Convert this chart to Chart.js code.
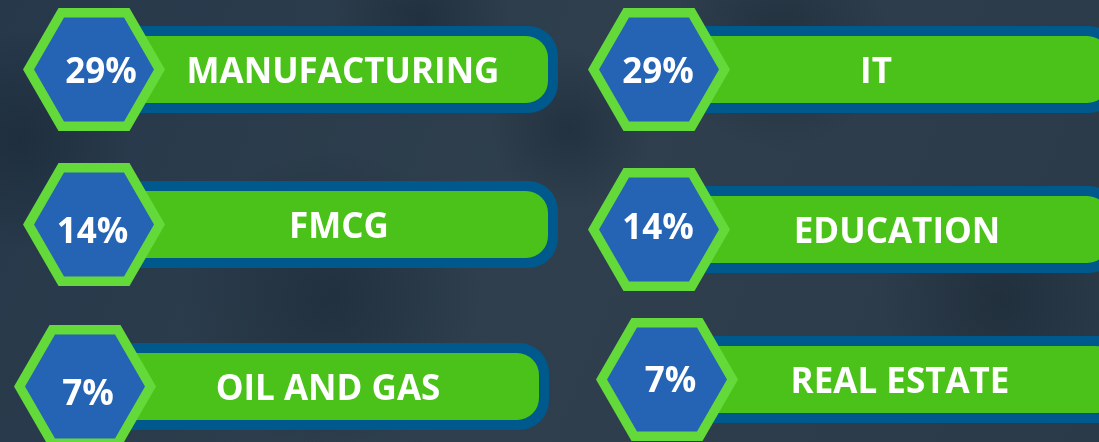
<!DOCTYPE html>
<html>
<head>
<meta charset="utf-8">
<script src="https://cdn.jsdelivr.net/npm/chart.js@4"></script>
<style>
  html, body { margin: 0; padding: 0; background: #2a3946; }
  #wrap { width: 1099px; height: 442px; position: relative; }
</style>
</head>
<body>
<div id="wrap"><canvas id="myChart"></canvas></div>
<script>
// data
const categories = ['MANUFACTURING', 'IT', 'FMCG', 'EDUCATION', 'OIL AND GAS', 'REAL ESTATE'];
const shares = [29, 29, 14, 14, 7, 7];
// grid slot of each card: column 0/1, row 0/1/2
const columns = [0, 1, 0, 1, 0, 1];
const rows = [0, 0, 1, 1, 2, 2];

// hand placed nudges in px (layout only): card dx, card dy, label dx, percent dx, percent dy
const nudge = [
    [0, 0, 3, 7, 1],
    [0, 0, -13, -1, 0.5],
    [0, -2, -1, -1.5, 5.5],
    [0, 3, 8, -1, -3.5],
    [-9, 3, -3, 3, 6],
    [8, -4, 3, 3.5, 0]
];

const HEX_R = 71, HEX_IN = 60;
const BAR_HALF = 43.5, BAR_BORDER = 10;
const CAP = 12.5; // half cap height of the 35px font

function roundRightRect(ctx, x, y, w, h, r) {
    ctx.beginPath();
    ctx.moveTo(x, y);
    ctx.lineTo(x + w - r, y);
    ctx.arcTo(x + w, y, x + w, y + r, r);
    ctx.lineTo(x + w, y + h - r);
    ctx.arcTo(x + w, y + h, x + w - r, y + h, r);
    ctx.lineTo(x, y + h);
    ctx.closePath();
}

function hexagon(ctx, cx, cy, r) {
    ctx.beginPath();
    for (let i = 0; i < 6; i++) {
        let a = Math.PI / 3 * i;
        let px = cx + r * Math.cos(a), py = cy + r * Math.sin(a);
        if (i === 0) ctx.moveTo(px, py); else ctx.lineTo(px, py);
    }
    ctx.closePath();
}

const background = {
    id: 'background',
    beforeDraw(chart) {
        const ctx = chart.ctx;
        ctx.save();
        let g = ctx.createLinearGradient(0, 0, 1099, 442);
        g.addColorStop(0, '#26384a');
        g.addColorStop(0.5, '#2f3f4d');
        g.addColorStop(1, '#2b3a48');
        ctx.fillStyle = g;
        ctx.fillRect(0, 0, chart.width, chart.height);
        // soft darker patches like the photo behind
        const patches = [[20, 140, 110], [330, 300, 150], [570, 130, 80], [1000, 300, 120], [780, 40, 110], [420, 20, 90]];
        patches.forEach(p => {
            let r = ctx.createRadialGradient(p[0], p[1], 0, p[0], p[1], p[2]);
            r.addColorStop(0, 'rgba(16,30,42,0.4)');
            r.addColorStop(1, 'rgba(16,30,42,0)');
            ctx.fillStyle = r;
            ctx.fillRect(0, 0, chart.width, chart.height);
        });
        ctx.restore();
    }
};

const badges = {
    id: 'badges',
    afterDatasetsDraw(chart) {
        const ctx = chart.ctx;
        const meta = chart.getDatasetMeta(0);
        ctx.save();
        meta.data.forEach((pt, i) => {
            let n = nudge[i];
            let cx = pt.x + n[0];
            let cy = pt.y + n[1];
            let len = columns[i] === 0 ? 464 : 460;

            // bar
            ctx.fillStyle = '#00598c';
            roundRightRect(ctx, cx, cy - BAR_HALF, len, BAR_HALF * 2, 30);
            ctx.fill();
            ctx.fillStyle = '#4bc219';
            roundRightRect(ctx, cx, cy - BAR_HALF + BAR_BORDER, len - BAR_BORDER, (BAR_HALF - BAR_BORDER) * 2, 22);
            ctx.fill();

            // hexagon
            ctx.fillStyle = '#64da3a';
            hexagon(ctx, cx, cy, HEX_R);
            ctx.fill();
            ctx.fillStyle = '#2563b4';
            hexagon(ctx, cx, cy, HEX_IN);
            ctx.fill();

            // texts
            ctx.fillStyle = '#ffffff';
            ctx.textAlign = 'center';
            ctx.textBaseline = 'alphabetic';
            ctx.font = 'bold 35px "Open Sans"';
            ctx.fillText(shares[i] + '%', cx + n[3], cy + n[4] + CAP);
            let lx = (columns[i] === 0 ? cx + 246 : cx + 230) + n[2];
            ctx.fillText(categories[i], lx, cy + 1.3 + CAP);
        });
        ctx.restore();
    }
};

const points = categories.map((c, i) => ({ x: columns[i], y: rows[i] }));

const config = {
    type: 'scatter',
    data: {
        datasets: [{
            label: 'Share',
            data: points,
            pointRadius: 0,
            pointHoverRadius: 0
        }]
    },
    options: {
        responsive: true,
        maintainAspectRatio: false,
        animation: false,
        layout: { padding: 0 },
        plugins: { legend: { display: false }, tooltip: { enabled: false } },
        scales: {
            x: { type: 'linear', display: false, min: -94 / 565, max: (1099 - 94) / 565 },
            y: { type: 'linear', display: false, reverse: true, min: -69.5 / 157, max: (442 - 69.5) / 157 }
        }
    },
    plugins: [background, badges]
};

document.fonts.load('bold 35px "Open Sans"').then(() => {
    new Chart(document.getElementById('myChart'), config);
});
</script>
</body>
</html>
